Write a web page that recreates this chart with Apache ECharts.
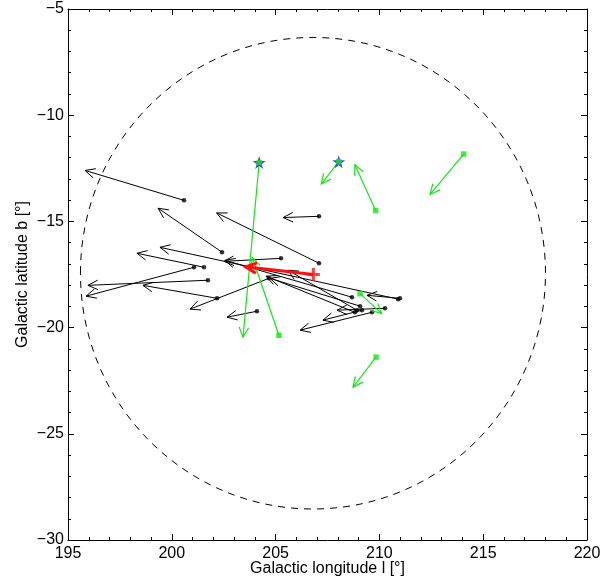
<!DOCTYPE html>
<html>
<head>
<meta charset="utf-8">
<script src="https://cdn.jsdelivr.net/npm/echarts@6/dist/echarts.min.js"></script>
<style>
  html, body { margin: 0; padding: 0; background: #fff; }
  #chart { width: 605px; height: 578px; }
</style>
</head>
<body>
<div id="chart"></div>
<script>
// Proper-motion arrows in galactic coordinates: [l_start, b_start, l_end, b_end]
const blackArrows = [
  [200.59, -14.01, 195.82, -12.60],
  [202.42, -16.45, 199.34, -14.38],
  [207.09, -16.97, 202.16, -14.60],
  [207.09, -14.76, 205.36, -14.82],
  [201.55, -17.16, 198.32, -16.50],
  [201.07, -17.16, 195.87, -18.52],
  [201.74, -17.77, 195.96, -18.01],
  [202.18, -18.62, 198.61, -18.01],
  [204.68, -17.68, 200.88, -19.13],
  [204.10, -19.23, 202.66, -19.51],
  [205.26, -16.74, 202.51, -16.88],
  [208.68, -18.57, 202.56, -16.83],
  [209.07, -18.99, 204.73, -17.68],
  [208.82, -19.28, 204.54, -17.58],
  [208.92, -19.18, 205.60, -17.30],
  [210.99, -18.62, 209.40, -18.48],
  [209.64, -19.28, 206.18, -20.12],
  [209.16, -19.18, 207.28, -19.65],
  [210.27, -19.09, 207.96, -19.18],
  [210.90, -18.66, 199.43, -16.22]
];

// Green arrows starting at a star marker
const starArrows = [
  [204.21, -12.23, 203.43, -20.45],
  [208.04, -12.19, 207.20, -13.24]
];

// Green arrows starting at a square marker
const squareArrows = [
  [209.82, -14.49, 208.82, -12.33],
  [214.06, -11.83, 212.44, -13.73],
  [205.16, -20.36, 203.88, -16.70],
  [209.07, -18.40, 210.11, -19.34],
  [209.84, -21.39, 208.73, -22.80]
];

// Mean motion of the group
const redArrow = [[206.82, -17.50, 203.56, -17.14]];

// Dashed boundary: centre (l, b) and radii in degrees
const regionCentre = [206.8, -17.44];
const regionRadius = [11.2, 11.1];

// Axis ranges and ticks
const lRange = [195, 220];
const bRange = [-30, -5];
const tickStep = 5;

const FONT = 'Liberation Sans, Arial, Helvetica, sans-serif';
const GREEN = '#14e614';

function arrowRenderer(color, width, headLen, headAngle) {
  return function (params, api) {
    const p0 = api.coord([api.value(0), api.value(1)]);
    const p1 = api.coord([api.value(2), api.value(3)]);
    const dx = p0[0] - p1[0], dy = p0[1] - p1[1];
    const d = Math.sqrt(dx * dx + dy * dy) || 1;
    const ux = dx / d, uy = dy / d;
    const c = Math.cos(headAngle), s = Math.sin(headAngle);
    const b1 = [p1[0] + headLen * (ux * c - uy * s), p1[1] + headLen * (ux * s + uy * c)];
    const b2 = [p1[0] + headLen * (ux * c + uy * s), p1[1] + headLen * (-ux * s + uy * c)];
    return {
      type: 'group',
      children: [
        { type: 'line', shape: { x1: p0[0], y1: p0[1], x2: p1[0], y2: p1[1] },
          style: { stroke: color, lineWidth: width, fill: null } },
        { type: 'polyline', shape: { points: [b1, p1, b2] },
          style: { stroke: color, lineWidth: width, fill: null, lineJoin: 'miter' } }
      ]
    };
  };
}

function minusFmt(v) { return String(v).replace('-', '\u2212'); }

const starPath = 'path://M50,0 L61.8,35.1 L98.1,34.5 L69.1,56.4 L79.4,90.5 L50,70 L20.6,90.5 L30.9,56.4 L1.9,34.5 L38.2,35.1 Z';
const crossPath = 'path://M0,5 L10,5 M5,0 L5,10';

const axisCommon = {
  type: 'value',
  splitLine: { show: false },
  axisLine: { show: true, onZero: false, lineStyle: { color: '#000', width: 1 } },
  axisTick: { show: true, inside: true, length: 6, lineStyle: { color: '#000' } },
  minorTick: { show: true, splitNumber: 5, length: 3, lineStyle: { color: '#000' } },
  nameTextStyle: { color: '#000', fontSize: 16, fontFamily: FONT },
  nameLocation: 'middle',
  nameMoveOverlap: false
};

const chart = echarts.init(document.getElementById('chart'), null, { renderer: 'canvas' });

chart.setOption({
  backgroundColor: '#fff',
  animation: false,
  grid: { left: 68, right: 18, top: 9, bottom: 38, containLabel: false, outerBoundsMode: 'none' },
  xAxis: [
    Object.assign({}, axisCommon, {
      position: 'bottom', min: lRange[0], max: lRange[1], interval: tickStep,
      name: 'Galactic longitude l [\u00b0]', nameGap: 21,
      axisLabel: { color: '#000', fontSize: 16, fontFamily: FONT, margin: 6 }
    }),
    Object.assign({}, axisCommon, {
      position: 'top', min: lRange[0], max: lRange[1], interval: tickStep,
      axisLabel: { show: false }
    })
  ],
  yAxis: [
    Object.assign({}, axisCommon, {
      position: 'left', min: bRange[0], max: bRange[1], interval: tickStep,
      name: 'Galactic latitude b [\u00b0]', nameGap: 37,
      axisLabel: { color: '#000', fontSize: 16, fontFamily: FONT, margin: 4, formatter: minusFmt }
    }),
    Object.assign({}, axisCommon, {
      position: 'right', min: bRange[0], max: bRange[1], interval: tickStep,
      axisLabel: { show: false }
    })
  ],
  series: [
    {
      // dashed field boundary
      type: 'custom',
      data: [[regionCentre[0], regionCentre[1], regionRadius[0], regionRadius[1]]],
      encode: { x: 0, y: 1 },
      silent: true,
      z: 1,
      renderItem: function (params, api) {
        const c = api.coord([api.value(0), api.value(1)]);
        const sz = api.size([api.value(2), api.value(3)]);
        return {
          type: 'ellipse',
          shape: { cx: c[0], cy: c[1], rx: sz[0], ry: sz[1] },
          style: { stroke: '#000', fill: null, lineWidth: 1, lineDash: [7, 6] }
        };
      }
    },
    {
      type: 'custom', data: blackArrows, encode: { x: [0, 2], y: [1, 3] }, z: 2,
      renderItem: arrowRenderer('#000', 1, 11, Math.PI / 7)
    },
    {
      type: 'scatter', data: blackArrows.map(a => [a[0], a[1]]), z: 3,
      symbol: 'circle', symbolSize: 4.5, itemStyle: { color: '#000' }
    },
    {
      type: 'custom', data: starArrows.concat(squareArrows), encode: { x: [0, 2], y: [1, 3] }, z: 4,
      renderItem: arrowRenderer(GREEN, 1.2, 11, Math.PI / 7)
    },
    {
      type: 'scatter', data: starArrows.map(a => [a[0], a[1]]), z: 5,
      symbol: starPath, symbolSize: 13, itemStyle: { color: '#1a1aff' }
    },
    {
      type: 'scatter', data: starArrows.concat(squareArrows).map(a => [a[0], a[1]]), z: 6,
      symbol: 'rect', symbolSize: 5.5, itemStyle: { color: GREEN }
    },
    {
      type: 'custom', data: redArrow, encode: { x: [0, 2], y: [1, 3] }, z: 7,
      renderItem: arrowRenderer('#ff1010', 3, 12, Math.PI / 7)
    },
    {
      type: 'scatter', data: redArrow.map(a => [a[0], a[1]]), z: 8,
      symbol: crossPath, symbolSize: 13,
      itemStyle: { color: 'none', borderColor: '#ff1010', borderWidth: 3 }
    }
  ]
});
</script>
</body>
</html>
